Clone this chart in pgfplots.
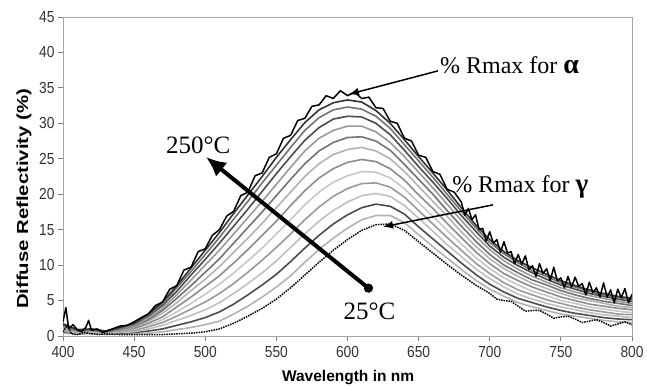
\documentclass[border=0pt]{standalone}
\usepackage{pgfplots}
\pgfplotsset{compat=1.18}
\usepackage{pgfplotstable}
\usepackage{fontspec}
\setmainfont{Liberation Serif}
\newfontfamily\arial{Liberation Sans}
\usetikzlibrary{arrows.meta}

\pgfplotstableread{
x c1 c2 c3 c4 c5 c6 c7 c8 c9 c10 c11 c12
400 0.4 0.6 0.7 0.8 1.0 1.1 1.2 1.4 1.5 1.6 1.7 1.7
410 0.3 0.3 0.4 0.5 0.5 0.6 0.6 0.7 0.8 0.8 0.8 0.9
420 0.4 0.4 0.5 0.5 0.6 0.7 0.7 0.8 0.9 0.9 0.9 1.0
430 0.2 0.3 0.3 0.4 0.4 0.5 0.5 0.6 0.6 0.6 0.7 0.7
440 0.3 0.4 0.5 0.6 0.6 0.7 0.8 0.9 1.0 1.1 1.1 1.2
450 0.3 0.5 0.6 0.8 1.0 1.1 1.3 1.4 1.5 1.7 1.8 1.8
460 0.4 0.7 1.0 1.3 1.5 1.8 2.1 2.3 2.5 2.8 2.9 3.1
470 0.6 1.0 1.5 1.9 2.3 2.7 3.2 3.6 3.9 4.3 4.6 4.8
480 0.9 1.5 2.2 2.8 3.4 4.1 4.7 5.3 5.8 6.3 6.8 7.1
490 1.2 2.0 2.9 3.8 4.6 5.5 6.4 7.1 7.9 8.6 9.1 9.6
500 1.6 2.6 3.7 4.8 5.9 7.0 8.0 9.0 10.0 10.8 11.5 12.1
510 2.1 3.4 4.7 6.0 7.3 8.5 9.8 10.9 12.1 13.1 13.9 14.6
520 3.1 4.5 6.0 7.4 8.9 10.3 11.8 13.1 14.4 15.5 16.5 17.3
530 4.2 5.8 7.4 9.0 10.6 12.2 13.8 15.3 16.7 17.9 19.0 19.9
540 5.5 7.2 8.9 10.7 12.4 14.2 15.9 17.5 19.0 20.4 21.6 22.5
550 6.9 8.7 10.6 12.5 14.4 16.2 18.1 19.8 21.4 22.9 24.1 25.2
560 8.5 10.5 12.5 14.4 16.4 18.4 20.3 22.1 23.8 25.3 26.6 27.7
570 10.4 12.4 14.4 16.4 18.5 20.5 22.5 24.3 26.1 27.6 29.0 30.1
580 12.2 14.2 16.2 18.2 20.3 22.3 24.3 26.1 27.9 29.4 30.8 31.9
590 13.8 15.8 17.7 19.7 21.7 23.6 25.6 27.3 29.0 30.6 31.9 32.9
600 15.2 17.1 18.9 20.8 22.6 24.5 26.3 28.0 29.6 31.0 32.3 33.3
610 16.4 18.1 19.8 21.5 23.2 24.9 26.6 28.1 29.6 30.9 32.0 33.0
620 17.0 18.6 20.1 21.6 23.1 24.6 26.1 27.5 28.8 30.0 31.0 31.8
630 17.0 18.3 19.7 21.0 22.3 23.6 25.0 26.2 27.3 28.4 29.3 30.0
640 16.0 17.2 18.4 19.6 20.8 22.0 23.2 24.2 25.3 26.2 27.0 27.7
650 14.3 15.4 16.6 17.7 18.8 19.9 21.1 22.1 23.1 23.9 24.7 25.3
660 12.6 13.7 14.8 15.8 16.9 18.0 19.0 20.0 20.9 21.7 22.4 23.0
670 11.0 12.0 12.9 13.9 14.9 15.9 16.9 17.7 18.6 19.4 20.0 20.6
680 9.4 10.3 11.2 12.1 13.0 13.9 14.7 15.5 16.3 17.0 17.6 18.1
690 7.9 8.7 9.5 10.3 11.1 11.9 12.7 13.4 14.1 14.8 15.3 15.7
700 6.6 7.3 8.1 8.8 9.5 10.2 10.9 11.5 12.2 12.7 13.2 13.6
710 5.6 6.2 6.9 7.5 8.2 8.8 9.5 10.0 10.6 11.1 11.6 11.9
720 4.7 5.3 5.9 6.5 7.2 7.8 8.4 8.9 9.4 9.9 10.3 10.6
730 4.1 4.7 5.2 5.8 6.3 6.9 7.4 7.9 8.4 8.9 9.2 9.6
740 3.6 4.1 4.6 5.1 5.7 6.2 6.7 7.2 7.6 8.0 8.4 8.7
750 3.1 3.6 4.1 4.6 5.0 5.5 6.0 6.4 6.8 7.2 7.5 7.8
760 2.8 3.2 3.7 4.1 4.6 5.0 5.4 5.8 6.2 6.6 6.9 7.1
770 2.5 2.9 3.3 3.7 4.1 4.5 5.0 5.3 5.7 6.0 6.3 6.5
780 2.2 2.6 3.0 3.4 3.8 4.2 4.6 4.9 5.3 5.6 5.8 6.0
790 2.0 2.4 2.8 3.1 3.5 3.9 4.2 4.6 4.9 5.2 5.4 5.6
800 1.9 2.3 2.6 3.0 3.3 3.7 4.0 4.3 4.6 4.9 5.2 5.3
}\data

\begin{document}
\begin{tikzpicture}
\path[use as bounding box] (0,0) rectangle (647pt,387pt);
\begin{axis}[
  at={(63pt,51pt)}, anchor=south west,
  scale only axis, width=569pt, height=319pt,
  xmin=400, xmax=800, ymin=0, ymax=45,
  xtick={400,450,...,800}, ytick={0,5,...,45},
  tick pos=left, tick align=outside,
  major tick length=5pt,
  tick style={gray, line width=0.8pt},
  axis line style={gray!70, line width=0.8pt},
  /pgf/number format/assume math mode=true,
  ticklabel style={font=\arial\fontsize{16}{16}\selectfont, text=black!80},
  xticklabel style={yshift=-2pt},
  xticklabel={\scalebox{0.86}[1]{\pgfmathprintnumber{\tick}}},
  yticklabel={\scalebox{0.86}[1]{\pgfmathprintnumber{\tick}}},
  xlabel={\arial\bfseries\fontsize{15.5}{16}\selectfont Wavelength in nm},
  xlabel style={at={(axis description cs:0.501,-0.1317)}, anchor=center},
  ylabel={\scalebox{1.27}[1]{\arial\bfseries\fontsize{16}{16}\selectfont Diffuse Reflectivity (\%)}},
  ylabel style={at={(axis description cs:-0.0685,0.43)}, anchor=center, rotate=0},
  every axis plot/.append style={line width=1.6pt, line join=round},
]
\addplot[black!30] table[x=x,y=c1]{\data};
\addplot[black!70] table[x=x,y=c2]{\data};
\addplot[black!25] table[x=x,y=c3]{\data};
\addplot[black!40] table[x=x,y=c4]{\data};
\addplot[black!22] table[x=x,y=c5]{\data};
\addplot[black!45] table[x=x,y=c6]{\data};
\addplot[black!30] table[x=x,y=c7]{\data};
\addplot[black!55] table[x=x,y=c8]{\data};
\addplot[black!40] table[x=x,y=c9]{\data};
\addplot[black!70] table[x=x,y=c10]{\data};
\addplot[black!55] table[x=x,y=c11]{\data};
\addplot[black!80] table[x=x,y=c12]{\data};
% 250 C (top, noisy)
\addplot[black, line width=1.5pt] coordinates {
(400,2.0)(402,4.0)(404,1.0)(407,1.6)(410,0.9)(413,0.6)(416,1.2)(418,2.2)(420,0.8)(424,1.0)(428,0.5)(432,0.8)(436,1.1)(440,1.4)(445,1.5)
(450,2.0)(455,2.6)(460,3.1)(465,4.3)(470,4.8)(475,6.6)(480,7.1)(485,9.3)(490,9.7)(495,11.9)(500,12.3)(505,14.2)(510,15.0)(515,16.9)(520,17.6)(525,19.8)(530,20.3)(535,22.6)(540,23.0)(545,25.2)(550,25.7)(555,27.9)(560,28.3)(565,30.4)(570,30.7)(575,32.4)(580,32.6)(585,33.9)(590,33.5)(595,34.6)(600,33.9)(605,34.4)(610,33.5)(615,33.7)(620,32.2)(625,32.1)(630,30.3)(635,30.0)(640,27.9)(645,27.5)(650,25.5)(655,25.2)(660,23.2)(665,22.8)(670,20.7)(675,20.3)
(680,18.9)(682.5,17.0)(685,18.0)(687.5,16.4)(690,17.1)(692.5,15.0)(695,15.2)(697.5,13.4)(700,14.7)(702.5,13.1)(705,13.6)(707.5,11.8)(710,13.3)(712.5,11.7)(715,11.9)(717.5,10.2)(720,11.5)(722.5,10.1)(725,11.3)(727.5,9.4)(730,9.9)(732.5,8.4)(735,10.2)(737.5,8.8)(740,9.5)(742.5,7.8)(745,9.7)(747.5,7.8)(750,8.2)(752.5,6.8)(755,8.4)(757.5,6.9)(760,8.3)(762.5,7.0)(765,7.4)(767.5,5.8)(770,7.6)(772.5,6.1)(775,6.8)(777.5,5.5)(780,7.5)(782.5,5.5)(785,6.5)(787.5,4.7)(790,6.6)(792.5,5.4)(795,6.7)(797.5,4.7)(800,5.9)
};
% 25 C (lowest, dotted)
\addplot[black, line width=1.5pt, densely dotted] coordinates {
(400,0.6)(403,1.5)(406,0.3)(410,0.2)(415,0.5)(420,0.3)(425,0.2)(430,0.3)(440,0.2)(450,0.2)(460,0.2)(470,0.2)(480,0.3)(490,0.4)(500,0.6)(510,1.0)(520,1.8)(530,2.8)(540,3.9)(550,5.2)(560,6.8)(570,8.6)(580,10.4)(590,12.1)(600,13.6)(610,14.9)(620,15.7)(630,15.8)(640,14.9)(650,13.3)(660,11.7)(670,10.1)(680,8.6)(690,7.2)(700,6.0)(705,5.2)(710,5.0)(715,4.9)(720,4.2)(725,3.5)(730,3.6)(735,3.6)(740,3.1)(745,2.5)(750,2.7)(755,2.8)(760,2.4)(765,1.9)(770,2.1)(775,2.3)(780,1.9)(785,1.4)(790,1.7)(795,2.0)(800,1.6)
};
% annotations
\draw[line width=4pt, {Circle[length=9pt]}-{Latex[length=20pt,width=18pt]}] (axis cs:617.2,6.35) -- (axis cs:500.5,25.25);
\node[anchor=base, font=\fontsize{25}{25}\selectfont] at (axis cs:495,25.8) {250°C};
\node[anchor=base, font=\fontsize{25}{25}\selectfont] at (axis cs:615.5,2.26) {25°C};
\draw[line width=1.5pt, -{Latex[length=10pt,width=8pt]}] (axis cs:663.6,37.4) -- (axis cs:601.0,34.1);
\draw[line width=1.5pt, -{Latex[length=10pt,width=8pt]}] (axis cs:702.3,18.5) -- (axis cs:625.0,15.4);
\node[anchor=base west, inner sep=0pt, font=\fontsize{24}{24}\selectfont] at (axis cs:665.0,36.96) {\% Rmax for {\bfseries\fontsize{28}{28}\selectfont α}};
\node[anchor=base west, inner sep=0pt, font=\fontsize{24}{24}\selectfont] at (axis cs:673.5,20.2) {\% Rmax for {\bfseries\fontsize{27}{27}\selectfont γ}};
\end{axis}
\end{tikzpicture}
\end{document}
